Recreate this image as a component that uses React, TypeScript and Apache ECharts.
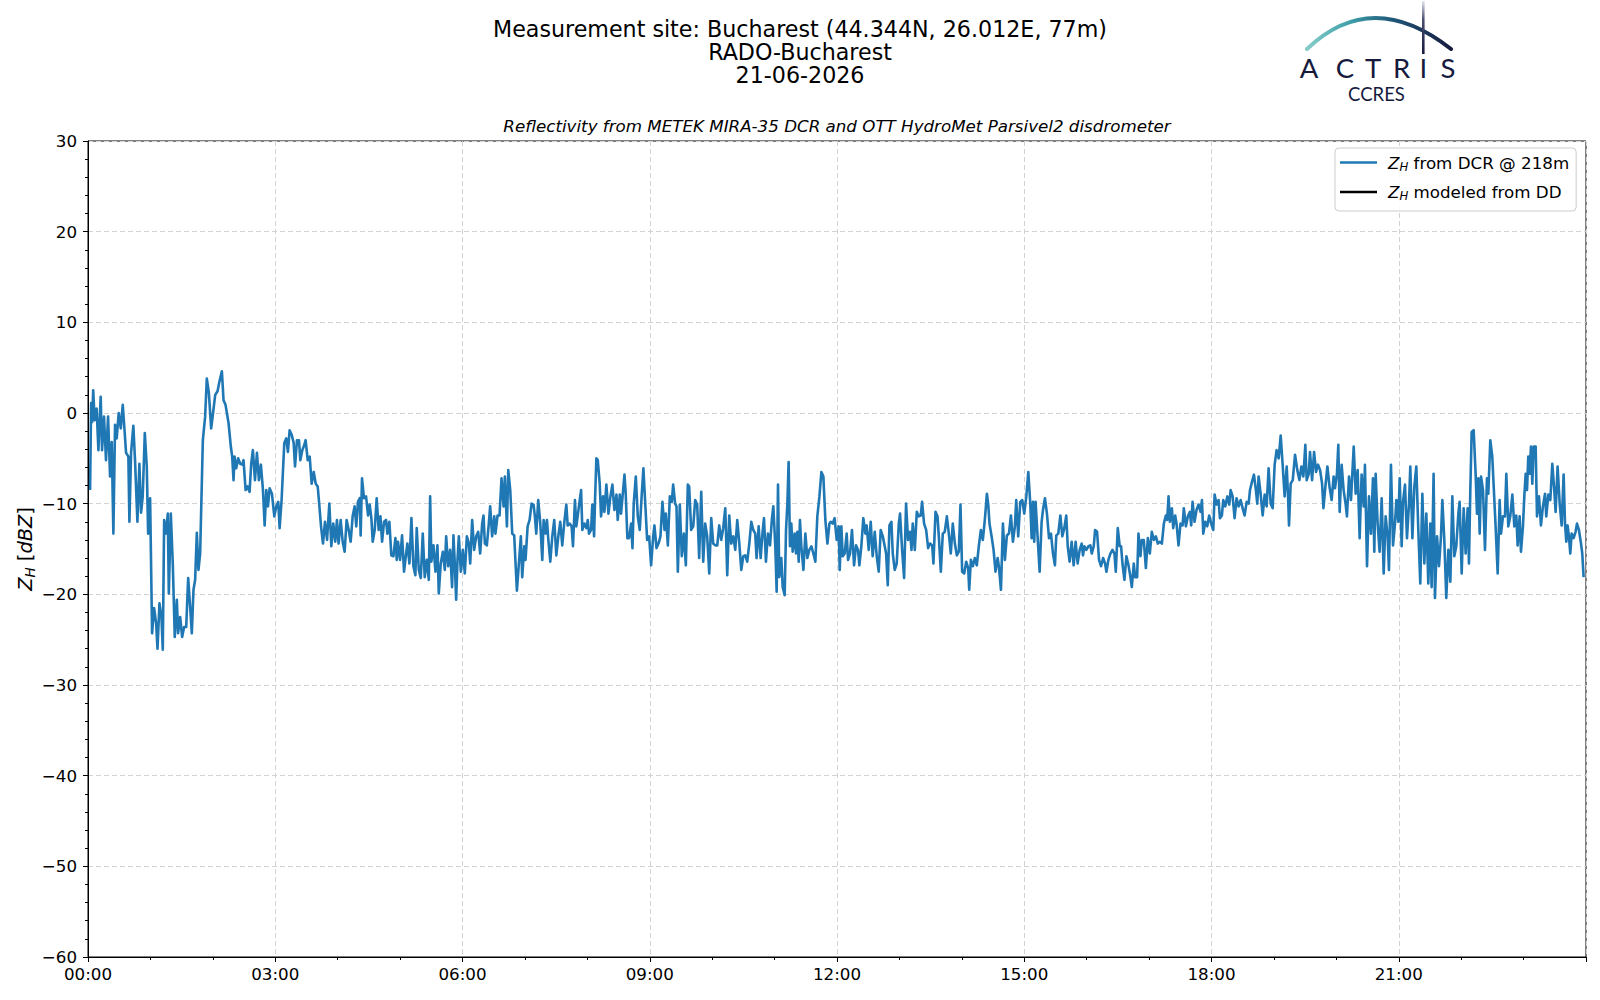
import React, { useEffect, useRef } from 'react';
import * as echarts from 'echarts';

const FONT = '"DejaVu Sans", Verdana, sans-serif';
const LOGO_FONT = 'Lato, "Open Sans", sans-serif';

const titleLines = [
  'Measurement site: Bucharest (44.344N, 26.012E, 77m)',
  'RADO-Bucharest',
  '21-06-2026',
];
const subtitle = 'Reflectivity from METEK MIRA-35 DCR and OTT HydroMet Parsivel2 disdrometer';
const seriesNames = ['Z_H from DCR @ 218m', 'Z_H modeled from DD'];
const legendTexts = [' from DCR @ 218m', ' modeled from DD'];
const logoLetters = ['A', 'C', 'T', 'R', 'I', 'S'];
const logoSub = 'CCRES';

// [minutes after 00:00, reflectivity dBZ]
const zhDcr_00_04: number[][] = [
  [2, -8.5], [3, 1.1], [4, -1], [5, 2.5], [6.4, -0.8], [8.3, 0.5], [10, -4.1], [12.2, 1.8], [13.5, -4.1], [15.4, -0.4],
  [17.3, -5.2], [19.3, -0.4], [21.2, -7], [22.8, -3.2], [24.4, -13.3], [26, -1.3], [27.6, -2.8], [29.5, 0], [31.5, -1.7], [33.4, 0.9],
  [35, -1.7], [36.6, -4.4], [38.8, -4.8], [39.8, -12], [41.4, -4.4], [43.6, -1.4], [45.2, -5.2], [47.5, -12], [49.4, -5.6], [51, -11],
  [52.6, -9.2], [54.6, -2.2], [56.5, -5.9], [57.8, -13.3], [59.7, -9.4], [61.6, -24.3], [63.5, -21.5], [65.5, -23.2], [66.8, -26], [68.7, -21],
  [70.6, -22.5], [71.9, -26.1], [73.2, -11.8], [75.1, -13.3], [76.7, -11.1], [77.7, -19.9], [79.6, -11.1], [81.5, -16.6], [83.4, -24.7], [85.4, -20.6],
  [86.6, -24.3], [88.6, -22.5], [90.5, -24.7], [92.4, -23.6], [94.4, -23.6], [96.3, -18.2], [98.2, -21.4], [99.8, -24.3], [101.4, -19.5], [103, -18.4],
  [104.6, -13.2], [106.2, -17.3], [107.8, -15.5], [110.4, -3], [112.6, -0.4], [114.2, 3.8], [116.2, 2.2], [118.4, -1.7], [120, -0.2], [122.3, 2],
  [124.5, 2.4], [126.4, 3.5], [128.7, 4.6], [130.3, 1.4], [132.2, 0.9], [135.1, -1.1], [137.3, -3.7], [138.6, -4.8], [139.9, -7.4], [140.9, -4.8],
  [142.5, -6.1], [144.4, -5], [146.3, -5.6], [148.3, -5.7], [149.5, -5.2], [151.5, -8.5], [153.4, -8.1], [155.3, -8.7], [156.9, -5.6], [158.5, -4.1],
  [160.5, -7.4], [162.4, -4.4], [164.3, -7.4], [166.2, -5.7], [168.2, -8.5], [169.8, -12.4], [171.4, -8.5], [173, -10.3], [174.6, -8.3], [176.8, -8.9],
  [179.1, -11.4], [181, -10.3], [182.9, -9.8], [184.2, -12.7], [186.1, -9.6], [188.7, -3.3], [190.6, -2.8], [192.2, -4.3], [193.8, -1.9], [195.8, -2.4],
  [197.7, -3.3], [199, -5.9], [200.9, -3], [202.8, -3], [204.1, -5.2], [206, -4.1], [208, -3.5], [209.2, -3], [211.2, -5.2], [213.1, -4.8],
  [215, -7.8], [217, -6.5], [218.9, -7.8], [220.8, -8.1], [222.1, -9.8], [224, -12.5], [225.9, -14.4], [227.8, -12], [229.8, -14],
];

const zhDcr_04_08: number[][] = [
  [232, -10], [233.9, -14.7], [235.8, -12.2], [237.7, -14.2], [239.3, -11.8], [240.9, -14.4], [242.9, -11.8], [244.8, -14.2], [246.7, -15.3], [248.6, -11.8],
  [250.6, -12.9], [252.5, -14.2], [254.4, -11.4], [256.3, -10.3], [257.9, -12.5], [259.5, -9.8], [261.2, -9.4], [262.1, -13.5], [263.4, -7.2], [265.3, -9.4],
  [267.3, -9.2], [269.2, -11.3], [270.8, -10.1], [272.4, -11.6], [273.7, -14.2], [275.6, -12.9], [277.5, -9.4], [279.4, -12.9], [281.1, -11.4], [282.7, -14.2],
  [284.6, -12], [286.5, -11.8], [287.8, -13.3], [289.7, -12], [291.6, -15.7], [293.6, -15.8], [295.5, -13.8], [296.8, -16.2], [298, -14.2], [300, -16.2],
  [301.9, -13.5], [303.8, -17.5], [305.8, -15.5], [307, -14.4], [309, -16.6], [310.9, -11.6], [312.8, -16.9], [314.7, -17.9], [316, -12.7], [318, -17.3],
  [319.9, -18.2], [321.8, -13.3], [323.7, -18.1], [325.7, -16.2], [327.6, -18.4], [328.9, -9.2], [330.1, -16.4], [332.1, -14.6], [334, -17.5], [335.9, -14.6],
  [337.2, -19.9], [339.1, -16.6], [341.1, -15.3], [343, -17.3], [344.3, -13.6], [346.2, -16.9], [348.1, -15.1], [350, -19.2], [351.3, -13.5], [352.6, -16.6],
  [353.9, -20.6], [355.2, -16.2], [356.5, -13.6], [358.4, -17.5], [360.3, -15.1], [362.2, -17.7], [364.2, -13.6], [366.1, -14.4], [367.4, -16.6], [369.3, -11.8],
  [371.2, -15.1], [373.2, -13.6], [375.1, -13.1], [377, -15.5], [378.9, -12.2], [380.2, -11.3], [381.5, -14.4], [383.4, -14.6], [385.3, -12.2], [386.6, -10.3],
  [388.5, -13.6], [390.5, -11.4], [391.7, -13.3], [393.7, -11.3], [395.6, -11.3], [397.5, -7.2], [399.5, -10.3], [400.7, -7], [402.7, -12.5], [404, -6.3],
  [405.9, -8.5], [407.8, -13.3], [409.7, -13.5], [411, -16.6], [412.3, -19.6], [414.2, -16.6], [416.1, -13.6], [417.4, -18.1], [419.4, -14.7], [420.6, -16.2],
  [422.6, -12.5], [424.5, -11.8], [426.4, -10], [428.3, -10.1], [429.6, -11.4], [430.9, -13.3], [432.8, -9.6], [434.8, -12.2], [436.7, -16.2], [438, -11.8],
  [439.9, -13.3], [441.2, -11.8], [442.5, -14], [444.4, -16.4], [446.3, -13.6], [448.2, -11.8], [450.2, -15.7], [452.1, -13.6], [454, -12], [455.9, -14.6],
  [457.9, -12], [459.8, -10.1], [461.1, -12.4], [463, -12.2], [464.9, -12.5], [466.2, -14.7], [468.1, -9.6], [469.4, -12.5], [470.7, -11.4],
];

const zhDcr_08_12: number[][] = [
  [472.7, -9.6], [474, -8.5], [475.2, -12.9], [477.1, -12.2], [479.1, -12.7], [480.4, -11.8], [481.6, -13.3], [483.6, -12.9], [484.8, -10.1], [486.5, -13.6],
  [487.4, -9.6], [488.7, -5], [490, -5.2], [491.9, -7.8], [493.2, -11.4], [495.1, -9.2], [496.4, -10.9], [498.3, -7.9], [500.3, -11.1], [502.2, -9.2],
  [504.1, -7.9], [506, -10.7], [508, -9], [509.2, -11.8], [511.2, -9], [512.4, -11.1], [514.4, -8.5], [515.7, -6.8], [516.9, -8.9], [518.5, -13.8],
  [520.1, -13.8], [522.1, -12.2], [523.4, -14.9], [524.6, -10], [526.6, -7], [528.5, -11.4], [530.4, -12.9], [532.3, -9], [533.9, -6.1], [535.5, -9.6],
  [537.5, -14], [539.4, -13.6], [541.3, -16.8], [543.3, -13.6], [544.5, -12.4], [546.5, -14.9], [548.4, -14.4], [550.3, -13.6], [552.2, -9.8], [554.2, -12.9],
  [555.4, -11.1], [557.4, -14.6], [559.3, -9.2], [561.2, -9.8], [562.5, -7.9], [564.4, -10], [565.7, -10.3], [567, -17.5], [568.9, -10.1], [570.8, -15.8],
  [572.8, -13.3], [574.7, -16.8], [576.6, -7.9], [577.9, -8.1], [579.8, -12.9], [581.8, -12.5], [583.7, -9.6], [585.6, -10.1], [587.5, -16], [589.5, -8.7],
  [591.4, -16.4], [593.3, -12.2], [595.2, -13.6], [597.2, -17.7], [599.1, -11.6], [601, -14.4], [603, -14.6], [604.9, -14.6], [606.8, -12.4], [608.7, -14],
  [610.6, -12.7], [612.6, -10.5], [614.5, -17.9], [616.4, -11.3], [618.3, -14.4], [620.3, -13.6], [622.2, -15.1], [624.1, -11.8], [626.1, -14.4], [628, -17.3],
  [629.9, -15.8], [631.8, -15.7], [633.7, -16.4], [635.7, -14.4], [637.6, -12], [639.5, -12.9], [641.4, -13.3], [642.7, -16], [644.7, -12.5], [646.6, -16],
  [648.5, -13.1], [649.8, -11.6], [651.7, -16.4], [653.6, -13.3], [655.6, -14.6], [657.5, -11.6], [658.8, -10.3], [660.7, -14.7], [662, -19.7], [663.3, -7.9],
  [664.5, -18.1], [666.5, -16], [667.8, -19.2], [669.7, -20.1], [671, -12.9], [672.3, -10], [673.5, -5.4], [674.8, -14.7], [676.1, -12.2], [677.4, -15.3],
  [679.3, -13.3], [680.6, -15.5], [681.9, -13.1], [683.2, -16.4], [684.4, -11.8], [685.7, -14.7], [687.7, -17.3], [689.6, -13.3], [691.5, -16], [693.4, -15.1],
  [695.4, -14.7], [697.3, -15.5], [699.2, -16.4], [701.1, -11.4], [703.1, -9.2], [705, -6.5], [706.9, -7], [708.8, -11.8], [710.8, -14.4], [712.7, -12.2],
];

const zhDcr_12_16: number[][] = [
  [713.9, -12], [715.8, -12.2], [717.7, -11.6], [719.7, -14], [721.6, -12.5], [722.6, -17.3], [724.2, -12.5], [725.5, -15.8], [727.4, -15.5], [729.3, -13.3],
  [730.6, -16.2], [732.5, -15.5], [734.4, -12.9], [736.4, -16.8], [738.3, -14.6], [740.2, -15.1], [741.5, -16.8], [743.4, -14.7], [745.3, -11.6], [747.3, -13.3],
  [748.5, -12.4], [750.5, -15.1], [752.4, -12], [754.3, -15.8], [756.3, -13.1], [758.2, -15.8], [760.1, -17.5], [762, -12.9], [764, -13.6], [765.9, -14.7],
  [767.2, -15.5], [768.8, -19], [770.4, -12.4], [772.3, -12], [773.6, -15.5], [775.5, -17.3], [777.4, -16.6], [779.4, -12.2], [780.6, -11.1], [782.6, -15.1],
  [784.5, -18.2], [786.4, -10], [788.3, -14], [790.3, -13.1], [791.6, -15.1], [792.8, -12.2], [794.8, -15.1], [796.7, -10.9], [798.6, -11.4], [800.5, -11.3],
  [801.8, -9.8], [803.7, -12.2], [805.7, -12.9], [807.6, -14.9], [809.5, -14.4], [811.5, -14.6], [812.7, -16.6], [814.7, -10.9], [816.6, -11.4], [817.9, -13.6],
  [819.8, -17.5], [821.7, -13.3], [823.6, -13.1], [825.6, -11.4], [827.5, -13.3], [829.4, -15.5], [831.3, -12.2], [833.3, -14.4], [835.2, -15.7], [837.1, -15.3],
  [838.7, -10.1], [840.3, -17.5], [842.3, -17.7], [844.2, -16.4], [846.1, -17.1], [847.1, -19.5], [848.7, -16.2], [850.6, -16.9], [852.5, -16], [854.4, -16.8],
  [856.4, -14.6], [858.3, -12.9], [860.2, -14], [862.1, -11.8], [864.1, -8.9], [865.4, -10.1], [866.6, -12.2], [868.6, -13.6], [870.5, -15.1], [872.4, -17.5],
  [874.4, -16], [875.6, -16.9], [877.6, -19.5], [879.5, -12.2], [881.4, -16.2], [883.3, -13.5], [885.3, -13.3], [887.2, -11.3], [889.1, -14.2], [891, -12.5],
  [892.3, -9.6], [894.2, -13.6], [896.2, -9.8], [898.1, -9.6], [900, -11.1], [902, -9.2], [903.9, -6.5], [905.8, -10], [907.1, -13.8], [908.4, -9.8],
  [909.6, -14.2], [910.9, -9.8], [912.8, -13.6], [914.8, -17.5], [916.7, -12], [918, -10.7], [919.9, -9.4], [921.8, -11.1], [923.8, -13.8], [925.7, -13.3],
  [927.6, -15.5], [929.5, -16.8], [930.8, -13.5], [932.7, -13.3], [934.7, -11.3], [936.6, -13.6], [938.5, -12.7], [940.4, -11.3], [941.8, -14.7], [943.6, -16.4],
  [945.6, -14.2], [947.5, -16.8], [949.4, -14.2], [951.3, -16.6], [953.3, -15.1],
];

const zhDcr_16_20: number[][] = [
  [955.2, -14.4], [956.5, -15.7], [957.8, -14.7], [959.7, -15.1], [961.7, -14.7], [963.6, -14.6], [964.9, -15.5], [966.8, -14.7], [968.1, -12.9], [970, -13.1],
  [971.9, -16.2], [973.8, -16.9], [975.8, -16], [977.7, -16.6], [979, -17.5], [980.9, -16.2], [982.8, -15.5], [984.8, -15.1], [986.7, -15.5], [988, -17.5],
  [989.9, -12.7], [991.8, -14.7], [993.1, -14.7], [994.4, -16.6], [996.3, -18.4], [998.2, -15.8], [1000.2, -16.8], [1002.1, -18.1], [1003.4, -19.2], [1005.3, -16.6],
  [1006.6, -18.1], [1008.5, -18.1], [1009.8, -13.3], [1011.7, -15.8], [1013, -14], [1014.9, -14], [1016.9, -17.1], [1018.8, -13.8], [1020.7, -15.5], [1022.6, -13.1],
  [1024.6, -14], [1026.5, -13.6], [1028.4, -14.4], [1030.3, -14.2], [1032.3, -14.4], [1034.2, -12.2], [1036.1, -11.3], [1037.4, -11.8], [1038.7, -9.2], [1040, -12],
  [1041.9, -10.5], [1043.2, -12.7], [1045.1, -11.3], [1046.4, -12.2], [1048.3, -14.6], [1050.2, -12.2], [1052.2, -12.4], [1053.4, -10.5], [1055.4, -12.5], [1057.3, -11.4],
  [1059.2, -10.9], [1060.5, -12.4], [1061.8, -9.8], [1063.7, -12], [1065.6, -10.7], [1067.6, -10.1], [1069.5, -10.9], [1070.8, -9.6], [1072.1, -13.3], [1074, -12],
  [1075.9, -12.5], [1077.8, -11.3], [1079.7, -12.2], [1081.7, -12.9], [1083, -9], [1084.9, -10.1], [1086.8, -9.6], [1088.1, -11.6], [1090, -11.3], [1091.3, -9.6],
  [1093.2, -10.3], [1095.2, -9.2], [1097.1, -10.1], [1098.4, -8.5], [1100.3, -9.2], [1102.2, -11.6], [1104.1, -9.4], [1106.1, -10.3], [1108, -9.6], [1109.9, -10.5],
  [1111.8, -11.3], [1113.8, -9.8], [1115.7, -10], [1117, -8.5], [1118.9, -7.6], [1120.8, -6.8], [1122.7, -8.5], [1124, -10], [1125.3, -7], [1127.2, -8.9],
  [1129.2, -11.3], [1131.1, -9], [1133, -10.3], [1134.9, -6.1], [1136.9, -10], [1138.8, -10.5], [1140.7, -5.7], [1142.6, -4.1], [1144.6, -5], [1146.5, -2.5],
  [1148.4, -5.7], [1150.3, -9.2], [1152.3, -5.9], [1153.6, -9.2], [1154.5, -12.4], [1156.1, -7.8], [1158.1, -7.4], [1160.3, -4.6], [1162.5, -6.3], [1164.5, -7.4],
  [1166.4, -5.9], [1168.3, -7], [1170.2, -3.5], [1171.5, -7.4], [1173.5, -6.7], [1174.7, -4.3], [1176.7, -7.4], [1178.6, -4.3], [1180.5, -6.5], [1182.4, -5.7],
  [1184.4, -6.3], [1186.3, -7.8], [1187.6, -10.5], [1189.5, -8.1], [1191.4, -5.9], [1193.4, -8.1],
];

const zhDcr_20_24: number[][] = [
  [1195.5, -9.6], [1197.4, -7], [1198.7, -8.3], [1200.6, -6.7], [1201.9, -3.5], [1203.2, -10.9], [1205.1, -5.7], [1207, -8.5], [1209, -10.1], [1210.2, -11.4],
  [1212.2, -7], [1214.1, -9.6], [1216.7, -3.7], [1218.6, -8.9], [1220.5, -6.3], [1222.4, -13.8], [1224.3, -6.8], [1226.3, -10.3], [1227.5, -5.7], [1229.5, -16.9],
  [1231.4, -9.2], [1233.3, -13.3], [1235.2, -7.2], [1236.5, -15.3], [1237.8, -6.7], [1239.7, -12.2], [1241.6, -15.3], [1243.6, -9.4], [1245.5, -17.7], [1247.4, -11.4],
  [1249.3, -13.6], [1250.6, -17.3], [1252.5, -5.7], [1254.5, -14.6], [1256.4, -12.2], [1257.7, -9.6], [1259.6, -12], [1260.9, -7.2], [1262.8, -14.7], [1264.1, -9.8],
  [1266, -7.9], [1267.9, -13.8], [1269.8, -10.1], [1271.1, -5.9], [1273.1, -13.8], [1275, -8.1], [1276.9, -5.9], [1278.8, -12.9], [1280.7, -18.8], [1282.7, -8.9],
  [1284.6, -16.6], [1286.5, -11.1], [1288.4, -18.8], [1290.3, -12.2], [1291.6, -19.2], [1293.5, -6.7], [1294.8, -20.4], [1296.8, -13.6], [1298.7, -16.9], [1300.6, -13.6],
  [1301.9, -9.6], [1303.8, -14], [1305.7, -20.4], [1307.7, -15.1], [1309.6, -18.6], [1311.5, -9.2], [1313.4, -15.8], [1315.3, -14.7], [1317.3, -11.1], [1318.5, -9.8],
  [1320.5, -17.7], [1322.4, -10.5], [1324.3, -15.5], [1326.2, -10.5], [1327.5, -16.6], [1328.8, -8.5], [1330.1, -2.1], [1332, -1.9], [1333.9, -6.7], [1335.2, -11.1],
  [1336.5, -7.2], [1337.8, -13.3], [1339.1, -7], [1341, -8.5], [1342.9, -15.1], [1344.8, -7.2], [1346.1, -8.9], [1348, -3], [1349.9, -4.8], [1351.9, -9.6],
  [1353.1, -12.5], [1355.1, -17.7], [1357, -9.6], [1358.3, -13.3], [1360.2, -11.4], [1362.1, -11.4], [1363.4, -6.7], [1365.3, -12.5], [1367.2, -11.4], [1369.2, -9],
  [1371.1, -12.5], [1373, -11.3], [1374.3, -14.6], [1376.2, -11.4], [1377.5, -15.3], [1379.4, -12.5], [1380.7, -9.2], [1382, -6.7], [1383.3, -8.5], [1384.5, -4.8],
  [1385.8, -6.7], [1387.1, -3.7], [1388.4, -7.8], [1389.7, -3.7], [1391.6, -3.7], [1392.9, -11.4], [1394.8, -9.2], [1396.7, -12.4], [1398.6, -10.3], [1400.6, -8.9],
  [1401.8, -11.4], [1403.8, -9], [1405.7, -9.6], [1407.6, -5.6], [1409.5, -8.5], [1410.8, -10.9], [1412.7, -5.9], [1414.7, -10], [1416.6, -12.4], [1418.5, -6.8],
  [1419.8, -12.2], [1421.1, -14.2], [1422.3, -12.4], [1423.6, -13.6], [1424.9, -15.5], [1426.2, -13.3], [1428.1, -13.8], [1430, -13.1], [1431.3, -12.2], [1433.2, -12.9],
  [1435.2, -14.4], [1436.4, -15.5], [1437.7, -18.1],
];

const zhModeledDD: number[][] = [];

const pad2 = (n: number) => (n < 10 ? '0' + n : '' + n);
const fmtTime = (v: number) => {
  if (v >= 1440) return '';
  const h = Math.floor(v / 60);
  const m = Math.round(v - h * 60);
  return pad2(h) + ':' + pad2(m);
};
const fmtY = (v: number) => (v < 0 ? '\u2212' + Math.abs(v) : String(v));

export default function App() {
  const ref = useRef<HTMLDivElement>(null);

  useEffect(() => {
    if (!ref.current) return;
    const chart = echarts.init(ref.current, null, { renderer: 'svg' });
    const dcrData = [
      ...zhDcr_00_04,
      ...zhDcr_04_08,
      ...zhDcr_08_12,
      ...zhDcr_12_16,
      ...zhDcr_16_20,
      ...zhDcr_20_24,
    ];

    const txt = (text: string, x: number, y: number, extra: any = {}) => ({
      type: 'text',
      x,
      y,
      silent: true,
      style: {
        text,
        fill: '#000',
        fontFamily: FONT,
        fontSize: 22.2,
        align: 'center',
        verticalAlign: 'middle',
        textAlign: 'center',
        textVerticalAlign: 'middle',
        ...extra,
      },
    });

    const letterX = [1309, 1345, 1373, 1401.5, 1423.3, 1448];
    const navy = '#161b3d';

    const graphic: any[] = [
      txt(titleLines.join('\n'), 800, 51.8, { lineHeight: 23 }),
      txt(subtitle, 837, 125.5, { fontSize: 16.7, fontStyle: 'italic' }),
      {
        type: 'text',
        x: 25,
        y: 549,
        rotation: Math.PI / 2,
        silent: true,
        style: {
          text: '{i|Z}{s|H}{n| [}{i|dBZ}{n|]}',
          align: 'center',
          verticalAlign: 'middle',
          textAlign: 'center',
          textVerticalAlign: 'middle',
          fontFamily: FONT,
          fontSize: 19.4,
          fill: '#000',
          rich: {
            i: { fontFamily: FONT, fontSize: 19.4, fontStyle: 'italic', lineHeight: 24, fill: '#000', color: '#000' },
            s: { fontFamily: FONT, fontSize: 13.6, fontStyle: 'italic', lineHeight: 12, verticalAlign: 'bottom', fill: '#000', color: '#000' },
            n: { fontFamily: FONT, fontSize: 19.4, lineHeight: 24, fill: '#000', color: '#000' },
          },
        },
      },
      {
        type: 'bezierCurve',
        silent: true,
        shape: { x1: 1307, y1: 49, cpx1: 1372, cpy1: -13, x2: 1451, y2: 49 },
        style: {
          fill: 'none',
          lineWidth: 4,
          lineCap: 'round',
          stroke: new echarts.graphic.LinearGradient(0, 0, 1, 0, [
            { offset: 0, color: '#86cdc9' },
            { offset: 0.3, color: '#3e9fa8' },
            { offset: 0.6, color: '#1f5677' },
            { offset: 1, color: '#171c3f' },
          ]),
        },
      },
      {
        type: 'rect',
        silent: true,
        shape: { x: 1422, y: 1, width: 2.6, height: 53 },
        style: {
          fill: new echarts.graphic.LinearGradient(0, 0, 0, 1, [
            { offset: 0, color: '#e4e6ee' },
            { offset: 0.35, color: '#4a4f70' },
            { offset: 1, color: navy },
          ]),
        },
      },
      ...logoLetters.map((l, i) =>
        txt(l, letterX[i], 67.5, { fontFamily: LOGO_FONT, fontSize: 27.5, fill: navy })
      ),
      txt(logoSub, 1376.5, 93.5, { fontFamily: LOGO_FONT, fontSize: 18.5, fill: navy }),
    ];

    const option: any = {
      animation: false,
      backgroundColor: '#ffffff',
      textStyle: { fontFamily: FONT },
      grid: {
        left: 88,
        right: 14,
        top: 141,
        bottom: 43,
        containLabel: false,
        outerBoundsMode: 'none',
        show: true,
        borderColor: '#000',
        borderWidth: 1,
        backgroundColor: 'transparent',
      },
      legend: {
        orient: 'vertical',
        left: 1335,
        top: 148,
        padding: [6, 7, 9, 5],
        itemGap: 11,
        itemWidth: 37,
        itemHeight: 2.5,
        icon: 'rect',
        selectedMode: false,
        backgroundColor: 'rgba(255,255,255,0.85)',
        borderColor: '#cccccc',
        borderWidth: 1,
        borderRadius: 4,
        itemStyle: { borderWidth: 0 },
        data: seriesNames,
        formatter: (name: string) =>
          '{i|Z}{s|H}{n|' + (name === seriesNames[0] ? legendTexts[0] : legendTexts[1]) + '}',
        textStyle: {
          color: '#000',
          fontFamily: FONT,
          fontSize: 16.7,
          padding: [0, 0, 0, 6],
          rich: {
            i: { fontFamily: FONT, fontSize: 16.7, fontStyle: 'italic', lineHeight: 20, color: '#000' },
            s: { fontFamily: FONT, fontSize: 11.7, fontStyle: 'italic', lineHeight: 10, verticalAlign: 'bottom', color: '#000' },
            n: { fontFamily: FONT, fontSize: 16.7, lineHeight: 20, color: '#000' },
          },
        },
      },
      xAxis: {
        type: 'value',
        min: 0,
        max: 1440,
        interval: 180,
        axisLine: { show: true, onZero: false, lineStyle: { color: '#000', width: 1 } },
        axisTick: { show: true, length: 5, lineStyle: { color: '#000', width: 1 } },
        minorTick: { show: true, splitNumber: 3, length: 3, lineStyle: { color: '#000', width: 1 } },
        axisLabel: { formatter: fmtTime, color: '#000', fontFamily: FONT, fontSize: 16.7, margin: 8 },
        splitLine: { show: true, lineStyle: { color: '#d3d3d3', width: 1, type: [5, 3] } },
        minorSplitLine: { show: false },
      },
      yAxis: {
        type: 'value',
        min: -60,
        max: 30,
        interval: 10,
        axisLine: { show: true, onZero: false, lineStyle: { color: '#000', width: 1 } },
        axisTick: { show: true, length: 5, lineStyle: { color: '#000', width: 1 } },
        minorTick: { show: true, splitNumber: 5, length: 3, lineStyle: { color: '#000', width: 1 } },
        axisLabel: { formatter: fmtY, color: '#000', fontFamily: FONT, fontSize: 16.7, margin: 11 },
        splitLine: { show: true, lineStyle: { color: '#d3d3d3', width: 1, type: [5, 3] } },
        minorSplitLine: { show: false },
      },
      series: [
        {
          name: seriesNames[0],
          type: 'line',
          data: dcrData,
          symbol: 'none',
          showSymbol: false,
          smooth: false,
          clip: true,
          lineStyle: { color: '#1f77b4', width: 2.6, join: 'round' },
          itemStyle: { color: '#1f77b4' },
          z: 3,
        },
        {
          name: seriesNames[1],
          type: 'line',
          data: zhModeledDD,
          symbol: 'none',
          showSymbol: false,
          lineStyle: { color: '#000000', width: 2.6 },
          itemStyle: { color: '#000000' },
          z: 4,
        },
      ],
      graphic,
    };

    chart.setOption(option);
    return () => chart.dispose();
  }, []);

  return (
    <div
      ref={ref}
      style={{ position: 'absolute', left: 0, top: 0, width: 1600, height: 1000, background: '#ffffff' }}
    />
  );
}
